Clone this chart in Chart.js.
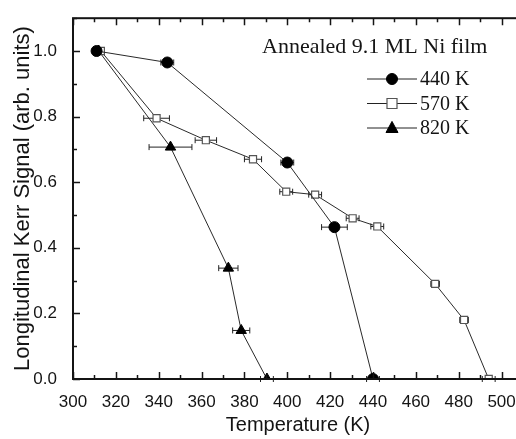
<!DOCTYPE html>
<html lang="en">
<head>
  <meta charset="UTF-8">
  <title>Longitudinal Kerr Signal vs Temperature</title>
  <script src="https://cdn.jsdelivr.net/npm/chart.js"></script>
  <style>
    html, body { margin: 0; padding: 0; background: #fff; overflow: hidden; }
    #wrap { width: 516px; height: 439px; overflow: hidden; }
  </style>
</head>
<body>
  <div id="wrap"><canvas id="myChart" width="530" height="439"></canvas></div>
  <script>
    // data
    const seriesLabels = ['440 K', '570 K', '820 K'];

    const temps440 = [311, 344, 400, 422, 440];
    const sig440   = [1.0, 0.965, 0.66, 0.463, 0.0];
    const err440   = [0, 3, 3, 6, 3];

    const temps570 = [313, 339, 362, 384, 399.5, 413, 430.5, 442, 469, 482.5, 494];
    const sig570   = [1.0, 0.795, 0.728, 0.67, 0.571, 0.562, 0.49, 0.465, 0.29, 0.18, 0.0];
    const err570   = [0, 6, 5, 4, 3, 3, 3, 3, 2, 2, 3];

    const temps820 = [312, 345.5, 372.5, 378.5, 390.5];
    const sig820   = [1.0, 0.707, 0.338, 0.148, 0.0];
    const err820   = [0, 10, 4.5, 4, 3];

    const xTicks = [300, 320, 340, 360, 380, 400, 420, 440, 460, 480, 500];
    const yTicks = [0.0, 0.2, 0.4, 0.6, 0.8, 1.0];
    const plotTitle = 'Annealed 9.1 ML Ni film';

    const toPoints = (xs, ys) => xs.map((x, i) => ({ x: x, y: ys[i] }));
    const errors = [err440, err570, err820];
    const ink = '#141414';

    // horizontal error bars, drawn under the markers
    const errorBars = {
      id: 'errorBars',
      beforeDatasetsDraw(chart) {
        const { ctx, scales: { x, y } } = chart;
        ctx.save();
        ctx.strokeStyle = '#222';
        ctx.lineWidth = 1;
        chart.data.datasets.forEach((ds, di) => {
          ds.data.forEach((p, i) => {
            const e = errors[di][i];
            if (!e) return;
            const x0 = x.getPixelForValue(p.x - e);
            const x1 = x.getPixelForValue(p.x + e);
            const py = y.getPixelForValue(p.y);
            ctx.beginPath();
            ctx.moveTo(x0, py); ctx.lineTo(x1, py);
            ctx.moveTo(x0, py - 3); ctx.lineTo(x0, py + 3);
            ctx.moveTo(x1, py - 3); ctx.lineTo(x1, py + 3);
            ctx.stroke();
          });
        });
        ctx.restore();
      }
    };

    // box with inward ticks, text box and legend
    const frame = {
      id: 'frame',
      afterDraw(chart) {
        const { ctx, chartArea: a, scales: { x, y } } = chart;
        ctx.save();
        ctx.strokeStyle = ink;
        ctx.lineWidth = 2;
        ctx.strokeRect(a.left, a.top, a.right - a.left, a.bottom - a.top);

        ctx.lineWidth = 1.5;
        ctx.beginPath();
        for (let v = 300; v <= 510; v += 10) {
          const px = Math.round(x.getPixelForValue(v)) + 0.5;
          const len = xTicks.includes(v) ? 7 : 4;
          ctx.moveTo(px, a.bottom); ctx.lineTo(px, a.bottom - len);
          ctx.moveTo(px, a.top); ctx.lineTo(px, a.top + len);
        }
        for (let k = 0; k <= 11; k++) {
          const v = k / 10;
          const py = Math.round(y.getPixelForValue(v)) + 0.5;
          const len = k % 2 === 0 ? 7 : 4;
          ctx.moveTo(a.left, py); ctx.lineTo(a.left + len, py);
          ctx.moveTo(a.right, py); ctx.lineTo(a.right - len, py);
        }
        ctx.stroke();

        ctx.fillStyle = ink;
        ctx.font = '22px "Liberation Serif", "Times New Roman", serif';
        ctx.textBaseline = 'alphabetic';
        ctx.fillText(plotTitle, 262, 53);

        // legend: line - marker - line, then label
        ctx.font = '20px "Liberation Serif", "Times New Roman", serif';
        chart.data.datasets.forEach((ds, i) => {
          const cy = 79 + i * 24.5;
          ctx.strokeStyle = '#222';
          ctx.lineWidth = 1;
          ctx.beginPath();
          ctx.moveTo(367, cy); ctx.lineTo(417, cy);
          ctx.stroke();
          ctx.lineWidth = ds.pointBorderWidth;
          ctx.strokeStyle = ds.pointBorderColor;
          ctx.fillStyle = ds.pointBackgroundColor;
          const r = ds.pointRadius;
          ctx.beginPath();
          if (ds.pointStyle === 'circle') {
            ctx.arc(392, cy, r, 0, Math.PI * 2);
          } else if (ds.pointStyle === 'rect') {
            ctx.rect(392 - r, cy - r, 2 * r, 2 * r);
          } else {
            ctx.moveTo(392, cy - r * 1.1);
            ctx.lineTo(392 + r, cy + r * 0.75);
            ctx.lineTo(392 - r, cy + r * 0.75);
            ctx.closePath();
          }
          ctx.fill();
          ctx.stroke();
          ctx.fillStyle = ink;
          ctx.fillText(ds.label, 420, cy + 6);
        });
        ctx.restore();
      }
    };

    const lineStyle = { showLine: true, borderColor: '#2a2a2a', borderWidth: 1, tension: 0 };

    const ctx = document.getElementById('myChart').getContext('2d');
    new Chart(ctx, {
      type: 'scatter',
      data: {
        datasets: [{
          label: seriesLabels[0],
          data: toPoints(temps440, sig440),
          ...lineStyle,
          pointStyle: 'circle',
          pointRadius: 5.5,
          pointBackgroundColor: '#000',
          pointBorderColor: '#000',
          pointBorderWidth: 1
        }, {
          label: seriesLabels[1],
          data: toPoints(temps570, sig570),
          ...lineStyle,
          pointStyle: 'rect',
          pointRadius: 5,
          pointBackgroundColor: '#fff',
          pointBorderColor: '#555',
          pointBorderWidth: 1.2
        }, {
          label: seriesLabels[2],
          data: toPoints(temps820, sig820),
          ...lineStyle,
          pointStyle: 'triangle',
          pointRadius: 6,
          pointBackgroundColor: '#000',
          pointBorderColor: '#000',
          pointBorderWidth: 1
        }]
      },
      options: {
        responsive: false,
        animation: false,
        layout: { padding: { top: 15, right: 3.4, left: 0, bottom: 0 } },
        plugins: { legend: { display: false }, tooltip: { enabled: false } },
        scales: {
          x: {
            type: 'linear',
            min: 300,
            max: 510,
            afterBuildTicks: s => { s.ticks = xTicks.map(v => ({ value: v })); },
            afterFit: s => { s.height = 60; },
            grid: { display: false },
            border: { display: false },
            ticks: {
              color: ink,
              padding: 5,
              maxRotation: 0,
              font: { family: '"Liberation Sans", Arial, sans-serif', size: 17 }
            },
            title: {
              display: true,
              text: 'Temperature (K)',
              color: ink,
              padding: { top: 0, bottom: 2 },
              font: { family: '"Liberation Sans", Arial, sans-serif', size: 20 }
            }
          },
          y: {
            type: 'linear',
            min: 0,
            max: 1.1,
            afterBuildTicks: s => { s.ticks = yTicks.map(v => ({ value: v })); },
            afterFit: s => { s.width = 73; },
            grid: { display: false },
            border: { display: false },
            ticks: {
              color: ink,
              padding: 8,
              callback: v => v.toFixed(1),
              font: { family: '"Liberation Sans", Arial, sans-serif', size: 17 }
            },
            title: {
              display: true,
              text: 'Longitudinal Kerr Signal (arb. units)',
              color: ink,
              padding: { top: 10, bottom: 0 },
              font: { family: '"Liberation Sans", Arial, sans-serif', size: 22 }
            }
          }
        }
      },
      plugins: [errorBars, frame]
    });
  </script>
</body>
</html>
